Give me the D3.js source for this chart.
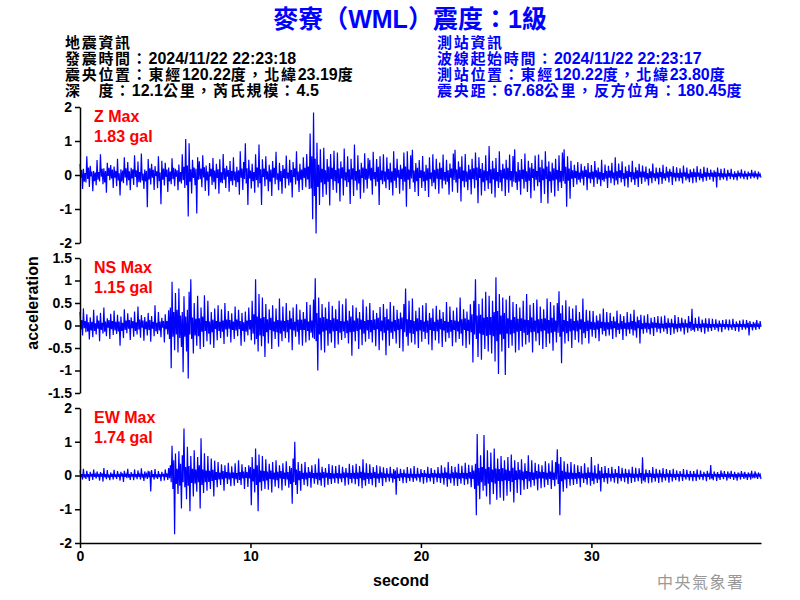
<!DOCTYPE html>
<html><head><meta charset="utf-8">
<script src="https://cdn.jsdelivr.net/npm/d3@7"></script>
<style>body{margin:0;background:#fff}</style>
</head><body><svg id="c" width="800" height="600"></svg>
<script>
const titleText = "麥寮（WML）震度：1級";
const quakeInfo = ["地震資訊","發震時間：2024/11/22 22:23:18","震央位置：東經120.22度，北緯23.19度","深　度：12.1公里，芮氏規模：4.5"];
const stationInfo = ["測站資訊","波線起始時間：2024/11/22 22:23:17","測站位置：東經120.22度，北緯23.80度","震央距：67.68公里，反方位角：180.45度"];
const componentNames = ["Z","NS","EW"];
const peakValues = ["1.83","1.15","1.74"];
const yDomains = [[-2,2],[-1.5,1.5],[-2,2]];
const yTicks = [[-2,-1,0,1,2],[-1.5,-1,-0.5,0,0.5,1,1.5],[-2,-1,0,1,2]];
const xTicks = [0,10,20,30];
const xMax = 39.95;
const sampleInterval = 0.05;
const yLabel = "acceleration", xLabel = "second", agency = "中央氣象署";

const zAcc = [
.32,-.08,.15,-.41,.18,-.20,.06,-.22,.55,-.12,.22,-.35,.27,-.04,.10,-.48,.12,-.18,.07,-.30,
.44,-.14,.09,-.19,.61,-.05,.18,-.27,.20,-.22,.12,-.52,.36,-.03,.21,-.15,.29,-.10,.16,-.38,
.25,-.08,.12,-.33,.48,-.16,.05,-.60,.17,-.19,.13,-.24,.52,-.07,.20,-.31,.38,-.15,.11,-.45,
.21,-.10,.17,-.29,.58,-.06,.14,-.36,.40,-.21,.09,-.22,.63,-.16,.04,-.41,.16,-.19,.12,-.95,
.47,-.13,.20,-.28,.33,-.08,.15,-.44,.26,-.03,.11,-.39,.55,-.18,.07,-.86,.42,-.14,.19,-.31,
.36,-.06,.16,-.50,.22,-.19,.10,-.27,.49,-.12,.21,-.33,.18,-.05,.14,-.45,.31,-.20,.09,-.25,
.61,-.15,.24,-.38,1.06,-.30,.28,-1.22,.93,-.20,.17,-.54,.45,-.09,.22,-.30,.18,-1.13,.52,-.14,
.40,-.12,.19,-.36,.58,-.07,.23,-.47,.28,-.16,.10,-.61,.35,-.04,.18,-.29,.50,-.21,.13,-.42,
.33,-.09,.17,-.55,.46,-.22,.08,-.24,.62,-.14,.20,-.38,.27,-.05,.15,-.49,.41,-.18,.12,-.30,
.52,-.16,.10,-.35,.24,-.21,.14,-.58,.70,-.08,.19,-.44,.38,-.12,.93,-.25,.20,-.88,.45,-.10,
.13,-.40,.33,-.18,.09,-.52,.61,-.15,.22,-.37,.90,-.24,.17,-.88,.46,-.06,.19,-.33,.55,-.13,
.11,-.48,.30,-.20,.16,-.62,.41,-.08,.21,-.27,.68,-.14,.05,-.45,.36,-.19,.12,-.55,.29,-.09,
.18,-.39,.57,-.11,.07,-.31,.45,-.22,.15,-.66,.38,-.06,.20,-.28,.70,-.17,.10,-.50,.33,-.14,
.16,-.44,.52,-.09,.21,-.36,.62,-.13,.25,-.41,1.22,-.40,.55,-1.30,1.84,-.62,.48,-1.72,.95,-.35,
.30,-.88,.76,-.22,.18,-.65,.80,-.27,.14,-.58,.47,-.20,.25,-.90,.62,-.12,.21,-.44,.71,-.18,
.15,-.52,.66,-.24,.19,-.78,.40,-.10,.23,-.60,.78,-.16,.08,-.35,.55,-.21,.17,-.85,.48,-.13,
.20,-.62,.90,-.17,.12,-.45,.58,-.25,.16,-.70,.36,-.09,.22,-.52,.64,-.14,.18,-.40,.50,-.11,
.45,-.16,.21,-.58,.68,-.12,.09,-.33,.47,-.20,.24,-.88,.55,-.15,.13,-.27,.61,-.19,.10,-.39,
.52,-.14,.18,-.44,.36,-.22,.11,-.60,.70,-.17,.20,-.38,.48,-.08,.15,-.55,.30,-.12,.19,-.46,
.66,-.20,.25,-.93,.70,-.14,.16,-.41,.58,-.10,.74,-.22,.13,-.50,.35,-.18,.21,-.62,.44,-.09,
.14,-.38,.56,-.19,.10,-.47,.30,-.16,.20,-.65,.52,-.12,.07,-.33,.61,-.23,.15,-.42,.48,-.11,
.18,-.55,.37,-.13,.21,-.40,.60,-.17,.09,-.28,.45,-.20,.14,-.58,.34,-.08,.19,-.49,.63,-.15,
.74,-.22,.16,-.52,.40,-.11,.24,-.78,.55,-.18,.13,-.36,.62,-.20,.10,-.45,.30,-.14,.17,-.57,
.48,-.12,.20,-.39,.66,-.15,.22,-.83,.52,-.09,.18,-.60,.35,-.21,.14,-.47,.58,-.16,.11,-.41,
.85,-.24,.17,-.55,.42,-.13,.20,-.66,.50,-.18,.09,-.38,.70,-.22,.15,-.48,.33,-.10,.19,-.62,
.45,-.14,.21,-.52,.60,-.16,.12,-.35,.56,-.20,.76,-.23,.10,-.44,.38,-.19,.15,-.58,.47,-.12,
.16,-.40,.63,-.20,.11,-.50,.42,-.17,.22,-.68,.35,-.09,.18,-.46,.57,-.14,.12,-.33,.60,-.21,
.23,-.82,.45,-.15,.19,-.56,.70,-.12,.25,-.84,.40,-.18,.10,-.52,.36,-.16,.20,-.63,.48,-.13,
.15,-.47,.58,-.21,.12,-.38,.66,-.18,.76,-.26,.24,-.93,.55,-.17,.19,-.70,.42,-.11,.14,-.35,
.30,-.09,.12,-.28,.38,-.14,.07,-.22,.33,-.11,.13,-.31,.26,-.06,.15,-.45,.35,-.10,.08,-.24,
.29,-.12,.10,-.35,.41,-.07,.14,-.26,.22,-.13,.09,-.33,.45,-.15,.06,-.20,.31,-.11,.12,-.38,
.27,-.08,.13,-.24,.36,-.10,.07,-.30,.52,-.16,.11,-.28,.34,-.09,.14,-.22,.40,-.12,.06,-.33,
.25,-.10,.12,-.37,.30,-.06,.09,-.21,.42,-.13,.08,-.29,.23,-.11,.14,-.35,.33,-.07,.10,-.26,
.28,-.07,.10,-.20,.25,-.12,.06,-.31,.19,-.09,.11,-.24,.34,-.08,.05,-.18,.22,-.10,.08,-.28,
.21,-.06,.09,-.26,.30,-.10,.05,-.17,.24,-.08,.11,-.22,.18,-.04,.09,-.29,.26,-.07,.06,-.19,
.23,-.08,.06,-.18,.20,-.09,.07,-.25,.28,-.05,.08,-.16,.22,-.10,.04,-.21,.17,-.07,.09,-.24,
.19,-.06,.08,-.22,.26,-.05,.07,-.15,.18,-.09,.04,-.20,.24,-.06,.08,-.17,.21,-.05,.06,-.14,
.16,-.05,.07,-.20,.14,-.06,.09,-.37,.22,-.04,.06,-.15,.18,-.07,.05,-.13,.20,-.06,.04,-.17,
.15,-.04,.06,-.12,.18,-.05,.03,-.14,.11,-.06,.05,-.16,.13,-.04,.06,-.10,.17,-.05,.04,-.12,
.12,-.05,.04,-.14,.10,-.03,.05,-.11,.15,-.04,.03,-.09,.12,-.05,.04,-.13,.10,-.03,.02,-.08];

const nsAcc = [
.30,-.09,.12,-.22,.38,-.06,.10,-.15,.25,-.13,.07,-.31,.18,-.11,.08,-.26,.35,-.12,.05,-.20,
.22,-.07,.11,-.35,.28,-.10,.06,-.18,.40,-.14,.09,-.24,.16,-.05,.12,-.30,.26,-.08,.10,-.21,
.33,-.11,.08,-.19,.24,-.13,.09,-.45,.20,-.12,.06,-.28,.36,-.10,.11,-.17,.27,-.07,.12,-.32,
.18,-.06,.10,-.25,.31,-.12,.07,-.20,.42,-.09,.13,-.27,.23,-.05,.11,-.34,.19,-.08,.09,-.22,
.28,-.10,.12,-.36,.21,-.07,.08,-.24,.45,-.13,.06,-.19,.30,-.11,.09,-.26,.17,-.05,.10,-.38,
.25,-.08,.10,-.20,.34,-.30,.40,-.95,.97,-.25,.30,-.55,.72,-.20,.35,-.60,.82,-.28,.22,-.48,
.30,-1.04,.65,-.25,.20,-.58,.35,-1.18,.75,-.20,1.03,-.30,.18,-.62,.50,-.22,.15,-.45,.66,-.24,
.16,-.52,.40,-.14,.20,-.48,.67,-.12,.10,-.35,.55,-.18,.09,-.42,.30,-.15,.13,-.50,.38,-.08,
.10,-.33,.45,-.12,.08,-.28,.36,-.14,.11,-.41,.50,-.09,.13,-.25,.32,-.07,.12,-.38,.27,-.10,
.09,-.30,.42,-.11,.13,-.24,.35,-.08,.10,-.45,.28,-.12,.07,-.36,.31,-.14,.11,-.22,.40,-.09,
.12,-.33,.55,-.18,.25,-.42,1.03,-.30,.20,-.58,.70,-.22,.16,-.46,.62,-.24,.19,-.70,.48,-.15,
.14,-.40,.36,-.10,.17,-.52,.45,-.13,.09,-.30,.38,-.15,.12,-.47,.60,-.18,.11,-.35,.42,-.13,
.10,-.28,.50,-.15,.12,-.38,.33,-.09,.16,-.55,.40,-.11,.08,-.25,.47,-.14,.13,-.42,.35,-.10,
.13,-.45,.30,-.10,.15,-.38,.52,-.12,.09,-.33,.46,-.16,.11,-.27,.58,-.30,1.05,-.35,.28,-1.0,
.62,-.20,.17,-.55,.48,-.14,.19,-.60,.40,-.11,.15,-.45,.53,-.18,.12,-.38,.44,-.13,.16,-.50,
.36,-.12,.14,-.42,.55,-.16,.10,-.32,.47,-.13,.09,-.28,.60,-.17,.11,-.40,.33,-.15,.20,-.67,
.45,-.14,.11,-.35,.40,-.12,.16,-.52,.30,-.09,.13,-.44,.58,-.18,.10,-.36,.42,-.11,.12,-.30,
.50,-.15,.12,-.38,.34,-.10,.14,-.46,.28,-.08,.17,-.55,.41,-.13,.11,-.33,.48,-.16,.19,-.66,
.37,-.11,.14,-.45,.52,-.16,.09,-.30,.44,-.13,.12,-.40,.35,-.10,.15,-.50,.29,-.08,.18,-.58,
.48,-.15,.82,-.25,.14,-.45,.55,-.17,.12,-.38,.60,-.19,.10,-.42,.33,-.13,.16,-.50,.40,-.11,
.12,-.36,.45,-.14,.09,-.30,.50,-.16,.11,-.42,.28,-.10,.17,-.55,.38,-.12,.08,-.33,.44,-.13,
.13,-.40,.35,-.09,.15,-.48,.30,-.11,.10,-.36,.52,-.16,.08,-.28,.42,-.14,.12,-.46,.33,-.10,
.11,-.38,.40,-.13,.09,-.30,.62,-.18,.14,-.45,.36,-.10,.16,-.50,.31,-.12,.13,-.42,.47,-.15,
.25,-.82,.55,-.20,1.03,-.30,.22,-.70,.48,-.18,.24,-.76,.60,-.21,.17,-.52,.75,-.23,.19,-.58,
.66,-.21,.19,-.62,.55,-.24,.30,-.80,1.07,-.35,.32,-1.08,.70,-.20,.22,-.58,.62,-.30,.28,-1.10,
.58,-.18,.16,-.50,.66,-.20,.13,-.45,.52,-.17,.19,-.60,.48,-.14,.15,-.55,.40,-.12,.16,-.47,
.55,-.16,.13,-.42,.70,-.21,.12,-.38,.46,-.15,.18,-.60,.50,-.14,.11,-.35,.58,-.17,.14,-.44,
.42,-.13,.15,-.52,.36,-.11,.16,-.48,.60,-.18,.12,-.40,.52,-.16,.17,-.56,.45,-.14,.11,-.38,
.50,-.16,.76,-.25,.27,-.84,.45,-.14,.12,-.40,.56,-.17,.10,-.35,.42,-.13,.15,-.50,.38,-.11,
.10,-.32,.45,-.13,.11,-.38,.30,-.09,.14,-.42,.60,-.17,.08,-.28,.35,-.12,.11,-.40,.33,-.09,
.08,-.25,.32,-.10,.07,-.28,.22,-.09,.11,-.35,.26,-.06,.08,-.20,.38,-.12,.07,-.24,.30,-.09,
.07,-.22,.28,-.08,.10,-.30,.20,-.06,.09,-.26,.33,-.10,.05,-.19,.25,-.08,.10,-.32,.21,-.07,
.06,-.24,.30,-.09,.07,-.18,.26,-.08,.10,-.22,.35,-.11,.08,-.27,.20,-.06,.12,-.40,.24,-.08,
.05,-.18,.22,-.07,.06,-.16,.25,-.08,.05,-.20,.17,-.06,.07,-.23,.19,-.05,.06,-.15,.21,-.07,
.05,-.17,.20,-.06,.04,-.14,.22,-.07,.06,-.19,.16,-.05,.06,-.21,.15,-.04,.05,-.18,.23,-.07,
.04,-.15,.19,-.06,.05,-.13,.17,-.05,.06,-.20,.14,-.04,.05,-.16,.21,-.06,.08,-.12,.37,-.10,
.04,-.14,.17,-.05,.03,-.12,.20,-.06,.04,-.15,.13,-.04,.05,-.18,.16,-.05,.04,-.14,.16,-.05,
.03,-.12,.15,-.04,.03,-.10,.14,-.05,.04,-.13,.11,-.03,.04,-.15,.12,-.03,.03,-.09,.14,-.04,
.03,-.11,.13,-.04,.02,-.10,.15,-.04,.03,-.12,.09,-.03,.04,-.14,.11,-.03,.03,-.10,.13,-.04,
.03,-.09,.12,-.05,.06,-.22,.10,-.03,.03,-.11,.08,-.02,.03,-.10,.12,-.03,.02,-.08,.10,-.03];

const ewAcc = [
.15,-.05,.04,-.12,.20,-.06,.03,-.10,.14,-.05,.04,-.16,.11,-.03,.05,-.13,.18,-.04,.03,-.09,
.12,-.04,.05,-.15,.10,-.03,.06,-.18,.22,-.05,.04,-.11,.16,-.06,.03,-.14,.09,-.04,.05,-.12,
.17,-.05,.03,-.10,.13,-.04,.05,-.15,.11,-.03,.06,-.19,.14,-.04,.03,-.08,.20,-.06,.04,-.13,
.10,-.03,.05,-.14,.18,-.05,.04,-.11,.15,-.04,.03,-.12,.21,-.06,.05,-.16,.12,-.03,.04,-.10,
.14,-.06,.12,-.47,.16,-.05,.04,-.12,.19,-.06,.03,-.10,.13,-.05,.04,-.17,.11,-.03,.05,-.15,
.18,-.05,.06,-.13,.22,-.08,.30,-.20,.88,-.40,.45,-1.74,.65,-.25,.20,-.55,.72,-.30,.35,-.98,
.60,-.20,1.39,-.35,.25,-.70,.85,-.30,.28,-1.06,.58,-.22,.20,-.62,.75,-.24,.18,-.48,.55,-.20,
.30,-.98,1.10,-.28,.18,-.52,.66,-.20,.15,-.45,.58,-.19,.14,-.40,.50,-.16,.17,-.62,.44,-.13,
.10,-.35,.40,-.12,.09,-.28,.33,-.11,.13,-.45,.30,-.08,.10,-.25,.38,-.12,.09,-.32,.27,-.08,
.09,-.30,.36,-.11,.07,-.22,.45,-.13,.10,-.28,.33,-.09,.12,-.40,.25,-.07,.10,-.34,.30,-.09,
.25,-.88,.55,-.18,.20,-.50,.80,-.28,.30,-1.06,.62,-.20,.15,-.45,.58,-.17,.13,-.40,.48,-.15,
.12,-.42,.35,-.10,.15,-.50,.40,-.12,.09,-.33,.45,-.14,.11,-.38,.30,-.09,.13,-.44,.36,-.10,
.09,-.30,.42,-.12,.10,-.36,.28,-.25,.22,-.84,.50,-.20,1.00,-.28,.18,-.55,.40,-.14,.13,-.45,
.35,-.10,.08,-.28,.40,-.12,.09,-.32,.25,-.07,.11,-.36,.30,-.08,.07,-.24,.33,-.10,.08,-.27,
.50,-.14,.09,-.30,.26,-.08,.10,-.35,.22,-.06,.08,-.28,.34,-.10,.07,-.25,.30,-.09,.06,-.22,
.28,-.08,.07,-.24,.32,-.09,.06,-.20,.26,-.08,.09,-.30,.22,-.06,.08,-.27,.35,-.10,.07,-.23,
.30,-.09,.08,-.26,.35,-.10,.09,-.32,.28,-.08,.11,-.38,.48,-.14,.09,-.30,.36,-.10,.07,-.25,
.33,-.10,.08,-.29,.25,-.07,.10,-.35,.30,-.09,.06,-.22,.27,-.08,.09,-.31,.24,-.07,.06,-.20,
.22,-.06,.05,-.18,.26,-.07,.06,-.21,.19,-.10,.15,-.57,.24,-.07,.05,-.16,.20,-.06,.07,-.23,
.18,-.05,.06,-.22,.25,-.07,.05,-.17,.21,-.06,.05,-.19,.28,-.08,.04,-.15,.23,-.06,.05,-.20,
.19,-.05,.07,-.24,.16,-.04,.06,-.21,.26,-.07,.05,-.18,.22,-.06,.07,-.25,.17,-.05,.06,-.20,
.25,-.07,.06,-.22,.30,-.08,.08,-.27,.24,-.07,.09,-.33,.40,-.11,.06,-.23,.28,-.08,.09,-.30,
.26,-.08,.09,-.31,.35,-.10,.07,-.24,.29,-.08,.08,-.28,.38,-.11,.07,-.26,.32,-.09,.10,-.35,
.30,-.10,.15,-.40,.35,-1.18,1.23,-.30,.22,-.70,.60,-.20,.25,-.45,1.20,-.30,.20,-.62,.75,-.24,
.25,-.86,.68,-.20,.18,-.55,.80,-.24,.21,-.72,.50,-.16,.19,-.66,.58,-.17,.22,-.75,.45,-.14,
.18,-.60,.55,-.16,.14,-.48,.62,-.19,.23,-.80,.45,-.13,.15,-.52,.40,-.12,.17,-.58,.48,-.14,
.12,-.42,.36,-.10,.13,-.40,.60,-.17,.10,-.35,.45,-.13,.09,-.30,.38,-.11,.13,-.44,.33,-.09,
.11,-.38,.30,-.09,.10,-.35,.42,-.12,.08,-.28,.36,-.10,.12,-.40,.45,-.13,.09,-.32,.40,-.12,
.78,-.25,.35,-1.18,.55,-.17,.14,-.48,.42,-.12,.11,-.38,.35,-.10,.09,-.30,.40,-.11,.08,-.28,
.33,-.10,.07,-.25,.30,-.09,.10,-.35,.28,-.08,.06,-.22,.36,-.10,.08,-.27,.24,-.07,.09,-.30,
.55,-.16,.08,-.26,.30,-.09,.06,-.22,.35,-.12,.14,-.47,.25,-.07,.06,-.20,.28,-.08,.07,-.24,
.22,-.06,.05,-.18,.26,-.07,.06,-.21,.19,-.05,.07,-.24,.28,-.08,.05,-.17,.23,-.06,.06,-.20,
.20,-.06,.07,-.25,.18,-.05,.06,-.22,.26,-.07,.05,-.19,.23,-.06,.05,-.17,.21,-.06,.07,-.24,
.54,-.15,.06,-.20,.18,-.05,.07,-.23,.16,-.04,.06,-.21,.25,-.07,.05,-.18,.20,-.06,.06,-.22,
.17,-.05,.06,-.20,.22,-.06,.04,-.15,.19,-.05,.06,-.21,.16,-.04,.05,-.18,.20,-.06,.04,-.14,
.15,-.04,.05,-.18,.13,-.03,.05,-.16,.19,-.05,.03,-.12,.17,-.05,.04,-.15,.14,-.04,.05,-.17,
.13,-.04,.05,-.16,.18,-.05,.03,-.12,.15,-.04,.04,-.14,.11,-.03,.05,-.17,.14,-.04,.03,-.12,
.31,-.09,.04,-.14,.12,-.03,.05,-.16,.10,-.03,.04,-.13,.15,-.04,.03,-.11,.13,-.04,.04,-.15,
.12,-.03,.03,-.10,.14,-.04,.04,-.13,.11,-.03,.04,-.15,.09,-.02,.03,-.12,.13,-.04,.03,-.10,
.11,-.03,.04,-.13,.09,-.02,.03,-.12,.14,-.04,.02,-.08,.12,-.03,.03,-.10,.09,-.02,.03,-.11];

const series = [zAcc, nsAcc, ewAcc];

const svg = d3.select("#c");
const LAT = "'Liberation Sans', Arial, sans-serif";
const CJK = "'Noto Sans CJK TC', 'Noto Sans CJK SC', sans-serif";
const isCJK = ch => /[\u3000-\u9fff\uff00-\uffef]/.test(ch);

function mixedText(sel, str, cjkSize, latSize, cjkSpacing){
  const runs = [];
  for (const ch of str){
    const c = isCJK(ch);
    if (runs.length && runs[runs.length-1].c === c) runs[runs.length-1].s += ch;
    else runs.push({c, s: ch});
  }
  sel.selectAll("tspan").data(runs).join("tspan")
    .attr("font-family", d => d.c ? CJK : LAT)
    .attr("font-size", d => d.c ? cjkSize : latSize)
    .attr("letter-spacing", d => d.c ? cjkSpacing : 0)
    .text(d => d.s);
}

// title
svg.append("text").attr("x", 410).attr("y", 28).attr("text-anchor","middle")
  .attr("fill","#0000ff").attr("font-weight","bold")
  .call(mixedText, titleText, 25, 25, 0);

// info blocks
quakeInfo.forEach((s,i)=>{
  svg.append("text").attr("x",65).attr("y",48+i*16).attr("fill","#000").attr("font-weight","bold")
    .call(mixedText, s, 15, 16, 1.7);
});
stationInfo.forEach((s,i)=>{
  svg.append("text").attr("x",437).attr("y",48+i*16).attr("fill","#0000ff").attr("font-weight","bold")
    .call(mixedText, s, 15, 16, 1.7);
});

const x = d3.scaleLinear().domain([0, xMax]).range([80, 761]);
const panelRanges = [[243,107],[393,258],[543,408]];

series.forEach((data, k) => {
  const y = d3.scaleLinear().domain(yDomains[k]).range(panelRanges[k]);
  const g = svg.append("g");
  const line = d3.line().x((d,i)=>x(i*sampleInterval)).y(d=>y(d));
  g.append("path").datum(data).attr("d", line).attr("fill","none")
    .attr("stroke","#0000ff").attr("stroke-width",1.2);
  const ax = g.append("g").attr("transform","translate(80,0)")
    .call(d3.axisLeft(y).tickValues(yTicks[k]).tickFormat(d=>String(d)).tickSize(5).tickPadding(3).tickSizeOuter(0));
  ax.select(".domain").attr("stroke","#000").attr("stroke-width",1.5);
  ax.selectAll(".tick line").attr("stroke","#000").attr("stroke-width",1.5);
  ax.selectAll(".tick text").attr("font-family",LAT).attr("font-size",14).attr("font-weight","bold").attr("fill","#000");
  const top = panelRanges[k][1];
  g.append("text").attr("x",94).attr("y",top+15).attr("fill","#ff0000").attr("font-family",LAT)
    .attr("font-size",16).attr("font-weight","bold").text(componentNames[k]+" Max");
  g.append("text").attr("x",94).attr("y",top+35).attr("fill","#ff0000").attr("font-family",LAT)
    .attr("font-size",16).attr("font-weight","bold").text(peakValues[k]+" gal");
});

const xa = svg.append("g").attr("transform","translate(0,543)")
  .call(d3.axisBottom(x).tickValues(xTicks).tickFormat(d=>String(d)).tickSize(5).tickPadding(3).tickSizeOuter(0));
xa.select(".domain").attr("stroke","#000").attr("stroke-width",1.5);
xa.selectAll(".tick line").attr("stroke","#000").attr("stroke-width",1.5);
xa.selectAll(".tick text").attr("font-family",LAT).attr("font-size",14).attr("font-weight","bold").attr("fill","#000");

svg.append("text").attr("transform","translate(38,303) rotate(-90)").attr("text-anchor","middle")
  .attr("font-family",LAT).attr("font-size",16).attr("font-weight","bold").text(yLabel);
svg.append("text").attr("x",401).attr("y",586).attr("text-anchor","middle")
  .attr("font-family",LAT).attr("font-size",16).attr("font-weight","bold").text(xLabel);
svg.append("text").attr("x",657).attr("y",588).attr("fill","#999")
  .attr("font-family",CJK).attr("font-size",16).attr("letter-spacing",1.5).text(agency);
</script></body></html>
